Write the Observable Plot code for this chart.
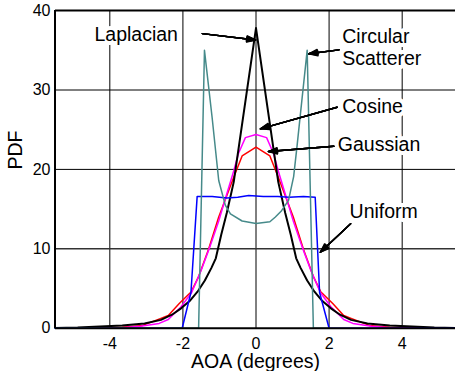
<!DOCTYPE html>
<html><head><meta charset="utf-8">
<script src="https://cdn.jsdelivr.net/npm/d3@7"></script>
<script src="https://cdn.jsdelivr.net/npm/@observablehq/plot@0.6"></script>
<style>html,body{margin:0;padding:0;background:#fff;overflow:hidden} svg{display:block}</style>
</head><body><div id="chart"></div>
<script>
// ---- data ----
const xTicks = [-4, -2, 0, 2, 4];
const yTicks = [0, 10, 20, 30, 40];

const laplacianX = [-5.5,-4.88,-4.27,-3.66,-3.05,-2.6,-2.3,-2.05,-1.8,-1.6,-1.4,-1.22,-1.1,-0.95,-0.8,-0.61,0,0.61,0.8,0.95,1.1,1.22,1.4,1.6,1.8,2.05,2.3,2.6,3.05,3.66,4.27,4.88,5.5];
const laplacianY = [0.03,0.08,0.2,0.35,0.6,1.05,1.7,2.5,3.5,4.6,6.0,7.6,8.8,11.8,14.5,18.4,37.8,18.4,14.5,11.8,8.8,7.6,6.0,4.6,3.5,2.5,1.7,1.05,0.6,0.35,0.2,0.08,0.03];

const gaussianX = [-5.5,-4.27,-3.66,-3.1,-2.62,-2.4,-2.1,-1.77,-1.57,-1.3,-1.02,-0.61,-0.38,0,0.38,0.61,1.02,1.3,1.57,1.77,2.1,2.4,2.62,3.1,3.66,4.27,5.5];
const gaussianY = [0.02,0.06,0.12,0.35,1.2,1.6,3.1,4.6,6.5,9.9,14.0,19.0,21.7,22.8,21.7,19.0,14.0,9.9,6.5,4.6,3.1,1.6,1.2,0.35,0.12,0.06,0.02];

const cosineX = [-5.5,-4.27,-3.66,-3.16,-2.65,-2.4,-2.05,-1.76,-1.5,-1.25,-1.02,-0.8,-0.61,-0.48,-0.29,0,0.29,0.48,0.61,0.8,1.02,1.25,1.5,1.76,2.05,2.4,2.65,3.16,3.66,4.27,5.5];
const cosineY = [0,0.02,0.05,0.25,0.6,1.1,2.7,4.5,7.3,10.4,13.5,16.9,19.8,22.0,24.0,24.4,24.0,22.0,19.8,16.9,13.5,10.4,7.3,4.5,2.7,1.1,0.6,0.25,0.05,0.02,0];

const uniformX = [-5.5,-2.02,-1.78,-1.61,-1.2,-0.8,-0.5,-0.2,0.2,0.6,0.9,1.3,1.62,1.74,2.0,5.5];
const uniformY = [0,0,4.5,16.6,16.6,16.4,16.5,16.7,16.6,16.6,16.5,16.6,16.5,4.5,0,0];

const circularX = [-5.5,-1.57,-1.41,-1.2,-1.02,-0.84,-0.7,-0.38,0,0.38,0.53,0.7,0.89,1.03,1.12,1.2,1.4,1.57,2.0];
const circularY = [0,0,35,26.5,18.6,15.5,14.4,13.5,13.2,13.4,14.0,14.8,16.1,19.1,22.8,26.3,35,0,0];

const labelText = ["Laplacian", "Circular\nScatterer", "Cosine", "Gaussian", "Uniform"];
const labelX = [-4.42, 2.36, 2.36, 2.24, 2.56];
const labelY = [36.23, 33.09, 27.13, 22.38, 13.9];
const arrowFromX = [-1.47, 2.27, 2.22, 2.13, 2.59];
const arrowFromY = [37.1, 35.06, 27.83, 22.92, 13.15];
const arrowToX = [-0.01, 1.445, 0.12, 0.34, 1.76];
const arrowToY = [36.3, 34.56, 25.11, 22.25, 9.57];

const xLabel = "AOA (degrees)";
const yLabel = "PDF";

// ---- tables built from the arrays ----
const toRows = (xs, ys) => xs.map((x, i) => ({x, y: ys[i]}));
const series = [
  {rows: toRows(gaussianX, gaussianY), stroke: "#ff0000", w: 1.5},
  {rows: toRows(cosineX, cosineY), stroke: "#ff00ff", w: 1.5},
  {rows: toRows(laplacianX, laplacianY), stroke: "#000000", w: 2},
  {rows: toRows(uniformX, uniformY), stroke: "#0000ff", w: 1.5},
  {rows: toRows(circularX, circularY), stroke: "#468a8a", w: 1.5}
];
const labels = labelText.map((t, i) => ({t, x: labelX[i], y: labelY[i]}));
const arrows = arrowFromX.map((x1, i) => ({x1, y1: arrowFromY[i], x2: arrowToX[i], y2: arrowToY[i]}));

const font = "'Liberation Sans', Arial, Helvetica, sans-serif";
const fmt = d => (d < 0 ? "-" + Math.abs(d) : String(d));

const headAngles = [8, 16, 24, 32, 40];

const chart = Plot.plot({
  width: 455,
  height: 371,
  marginLeft: 55,
  marginRight: 0,
  marginTop: 10,
  marginBottom: 43,
  x: {domain: [-5.5, 5.5], range: [54.5, 456.5]},
  y: {domain: [0, 40], range: [327.7, 10.1]},
  style: {fontFamily: font, fontSize: "16px", color: "black", background: "white"},
  marks: [
    Plot.gridX(xTicks, {stroke: "black", strokeOpacity: 1, strokeWidth: 1}),
    Plot.gridY([20, 30], {stroke: "black", strokeOpacity: 1, strokeWidth: 1}),
    Plot.gridY([10], {stroke: "#333", strokeOpacity: 1, strokeWidth: 1.6}),
    Plot.text(labels, {x: "x", y: "y", text: "t", textAnchor: "start", lineAnchor: "bottom",
      lineHeight: 1.13, fontSize: 19.5, fill: "black", stroke: "white", strokeWidth: 8}),
    ...series.map(s => Plot.line(s.rows, {x: "x", y: "y", stroke: s.stroke, strokeWidth: s.w, curve: "linear"})),
    ...headAngles.map(a => Plot.arrow(arrows, {x1: "x1", y1: "y1", x2: "x2", y2: "y2",
      stroke: "black", strokeWidth: 1.4, headLength: 10, headAngle: a})),
    Plot.ruleY([0, 40], {stroke: "black", strokeWidth: 2}),
    Plot.ruleX([-5.5], {stroke: "black", strokeWidth: 2}),
    Plot.axisX(xTicks, {tickSize: 0, tickPadding: 9, label: null, fontSize: 16, tickFormat: fmt}),
    Plot.axisY(yTicks, {tickSize: 0, tickPadding: 5, label: null, fontSize: 16, tickFormat: fmt}),
    Plot.text([xLabel], {frameAnchor: "bottom", lineAnchor: "bottom", dy: 39.5, fontSize: 19.5, fill: "black"}),
    Plot.text([yLabel], {frameAnchor: "left", rotate: -90, dx: -40, lineAnchor: "middle", fontSize: 19.5, fill: "black"})
  ]
});
document.getElementById("chart").appendChild(chart);
</script>
</body></html>
